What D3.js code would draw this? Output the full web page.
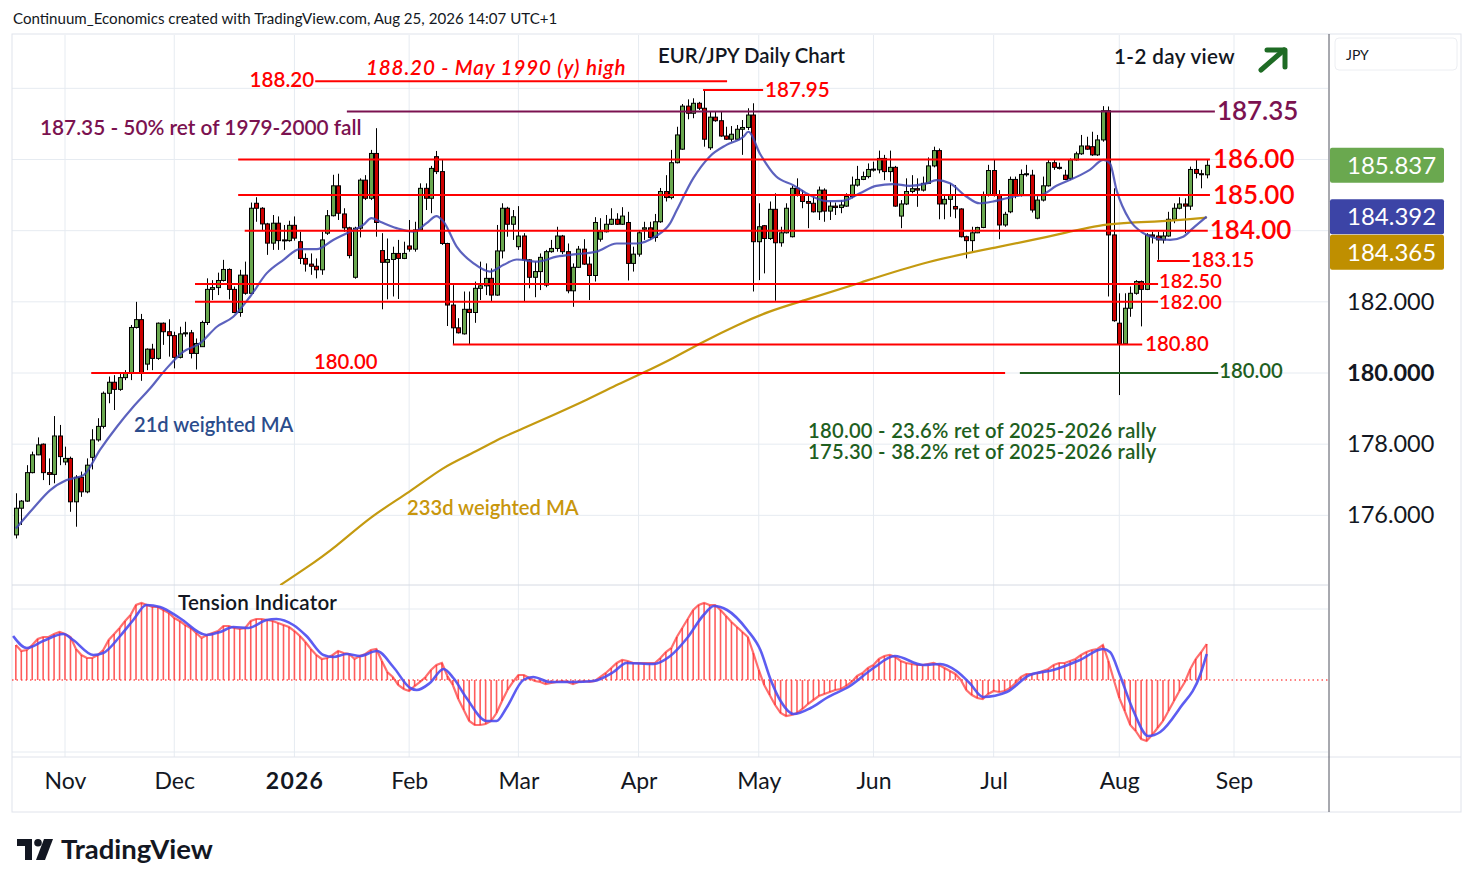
<!DOCTYPE html>
<html>
<head>
<meta charset="utf-8">
<script src="https://cdn.jsdelivr.net/npm/d3@7"></script>
<style>
  body { margin: 0; background: #fff; }
  svg text { font-family: "Lato", "Open Sans", sans-serif; }
</style>
</head>
<body>
<svg id="chart" width="1474" height="887"></svg>
<script>
// daily EUR/JPY candles, 21 Oct 2025 .. 25 Aug 2026
const opens = [
  175.45,176.2,176.4,177.2,177.7,178.0,177.2,177.15,178.23,177.5,
  177.6,176.38,177.07,176.66,177.63,178.12,178.5,179.43,179.74,179.54,
  179.87,180.0,181.28,181.5,180.25,180.67,180.41,181.4,181.16,181.05,
  180.44,181.1,181.13,180.55,180.74,181.42,182.35,182.4,182.6,182.91,
  182.35,181.7,182.75,182.24,184.77,184.63,184.19,183.65,184.21,183.74,
  183.72,184.15,183.69,183.22,183.06,183.0,182.9,183.93,184.42,185.26,
  184.47,184.08,182.69,184.07,185.42,184.91,186.17,183.44,183.11,183.19,
  183.36,183.22,183.57,183.48,184.02,185.19,184.91,186.08,185.66,183.64,
  181.91,181.27,181.1,181.79,181.7,182.38,182.45,182.66,182.19,183.43,
  184.63,184.18,183.55,183.85,183.18,182.69,182.85,182.47,183.41,183.5,
  183.85,183.41,182.31,182.97,183.48,183.06,182.74,183.76,183.97,184.18,
  184.32,184.18,184.23,183.08,183.34,184.04,184.08,183.81,184.25,185.1,
  184.93,185.91,186.29,187.5,187.3,187.58,187.44,186.33,187.19,187.09,
  186.66,186.57,186.57,186.85,186.9,187.25,183.69,184.14,183.78,184.6,
  183.66,183.94,183.83,185.19,185.0,184.82,184.77,184.53,185.14,184.55,
  184.69,184.65,184.69,184.96,185.28,185.44,185.52,185.72,185.71,186.03,
  185.66,185.78,184.41,184.75,185.1,185.18,185.14,185.33,185.82,186.25,
  184.75,184.88,184.68,184.61,183.83,183.72,183.94,184.09,185.0,185.69,
  185.0,184.16,184.53,185.44,185.0,185.58,185.56,184.35,184.86,185.26,
  185.91,185.78,185.56,185.47,185.99,186.16,186.38,186.36,186.13,186.55,
  187.37,183.88,181.4,180.82,181.82,182.24,182.57,182.35,183.88,183.85,
  183.74,183.85,184.32,184.63,184.75,184.69,185.72,185.6,185.57
];
const highs = [
  176.62,176.43,177.41,177.79,178.19,178.02,177.6,178.79,178.54,177.93,
  177.65,177.13,177.23,177.6,178.42,178.73,179.48,179.9,179.94,179.99,
  180.08,181.35,182.0,181.66,180.69,180.82,181.42,181.42,181.51,181.16,
  181.3,181.44,181.21,180.97,181.47,182.66,182.61,182.82,183.18,182.94,
  182.43,182.9,183.13,184.79,184.94,184.66,184.22,184.44,184.4,184.16,
  184.28,184.4,183.97,183.36,183.36,183.22,183.97,184.58,185.57,185.6,
  184.63,184.11,184.11,185.47,185.56,186.27,186.88,183.93,183.78,183.55,
  183.74,183.69,184.3,184.25,185.33,185.33,185.82,186.24,185.99,183.66,
  182.47,181.54,182.29,182.29,182.57,183.13,183.08,182.94,184.16,184.77,
  184.67,184.58,184.69,183.93,183.2,183.13,183.36,183.46,183.74,184.11,
  183.88,183.64,183.08,183.57,183.76,183.27,184.38,184.35,184.44,184.63,
  184.49,184.66,184.53,183.55,184.02,184.25,184.25,184.47,185.2,185.56,
  186.27,186.92,187.56,187.69,187.72,187.62,187.97,187.34,187.34,187.34,
  186.92,186.94,186.97,187.11,187.44,187.58,184.77,184.16,184.82,185.05,
  184.11,184.77,185.26,185.47,185.14,185.0,184.96,185.24,185.19,184.82,
  184.79,184.86,185.05,185.52,185.82,185.66,185.89,185.94,186.25,186.13,
  186.25,185.82,184.86,185.47,185.56,185.47,185.52,186.06,186.36,186.31,
  185.0,185.33,185.28,184.63,183.86,184.11,184.11,185.1,185.85,185.99,
  185.14,184.53,185.52,185.52,185.72,185.85,185.71,184.97,185.52,185.99,
  185.99,185.91,185.71,186.03,186.22,186.69,186.64,186.78,186.69,187.5,
  187.49,185.19,182.24,182.24,182.43,182.61,182.6,183.93,183.97,183.97,
  183.97,184.53,184.77,184.94,184.91,185.8,185.99,185.71,185.99
];
const lows = [
  175.35,175.73,176.38,177.18,177.69,176.99,176.85,176.9,177.41,177.41,
  176.1,175.68,176.52,176.62,177.29,178.07,178.44,179.15,178.96,179.5,
  179.8,179.8,181.25,179.78,180.08,180.08,180.37,180.79,180.46,180.13,
  180.41,181.02,180.41,180.1,180.74,181.35,182.05,182.19,182.57,182.07,
  181.68,181.58,182.2,182.22,184.25,184.02,183.32,183.46,183.46,183.46,
  183.69,183.72,183.06,182.85,182.76,182.66,182.76,183.88,184.4,184.3,
  183.97,183.22,182.65,183.81,184.86,184.86,183.83,181.79,182.07,182.15,
  182.08,183.2,183.41,183.41,184.0,184.58,184.49,185.59,183.6,181.32,
  180.79,181.11,181.08,180.79,181.41,182.05,182.19,182.02,182.17,183.22,
  183.83,183.74,183.46,182.02,182.38,182.13,182.33,182.41,183.38,183.41,
  183.34,182.24,181.86,182.95,183.04,182.05,182.57,183.69,183.95,184.16,
  184.16,184.16,182.6,182.85,183.27,183.74,183.74,183.69,184.22,184.82,
  184.88,185.89,186.27,187.13,187.16,187.39,186.36,186.27,187.06,186.64,
  186.55,186.5,186.55,186.13,186.83,182.29,182.61,182.8,183.74,182.03,
  183.55,183.92,183.81,184.96,184.63,184.07,184.51,184.3,184.25,184.3,
  184.44,184.49,184.67,184.91,185.24,185.42,185.47,185.66,185.61,185.42,
  185.38,184.67,184.07,184.72,185.05,184.67,185.1,185.31,185.78,184.32,
  184.32,184.39,184.35,183.81,183.22,183.41,183.93,184.07,184.96,184.96,
  183.76,184.11,184.49,184.91,184.96,185.52,184.51,184.32,184.82,185.24,
  185.71,185.72,185.42,185.42,185.97,186.13,186.27,186.1,186.1,186.5,
  182.15,181.44,179.38,180.8,181.58,182.2,181.31,182.33,183.64,183.18,
  183.64,183.83,184.21,184.6,183.93,184.58,185.47,185.19,185.47
];
const closes = [
  176.2,176.4,177.2,177.7,177.98,177.2,177.15,178.23,177.65,177.6,
  176.38,177.07,176.66,177.41,178.12,178.5,179.43,179.74,179.54,179.87,
  180.0,181.28,181.5,180.0,180.67,180.41,181.4,181.16,181.05,180.44,
  181.1,181.13,180.55,180.83,181.42,182.35,182.4,182.6,182.91,182.35,
  181.7,182.75,182.24,184.63,184.63,184.19,183.65,184.21,183.72,183.72,
  184.15,183.79,183.22,183.06,183.0,182.9,183.74,184.42,185.26,184.49,
  184.08,183.3,184.07,185.42,184.91,186.17,184.23,183.11,183.19,183.36,
  183.22,183.36,183.48,184.02,185.19,184.91,185.75,185.66,183.64,181.91,
  181.27,181.13,181.79,181.7,182.38,182.45,182.66,182.19,183.43,184.63,
  184.18,184.39,183.85,183.18,182.69,182.85,183.25,183.41,183.5,183.85,
  183.41,182.31,182.97,183.48,183.06,182.74,184.23,183.97,184.18,184.32,
  184.18,184.41,183.08,183.34,183.94,184.08,183.81,184.25,185.1,184.93,
  185.91,186.69,187.5,187.3,187.58,187.44,186.57,187.19,187.09,186.66,
  186.57,186.71,186.85,186.9,187.25,183.69,184.11,183.78,184.6,183.66,
  183.94,184.63,185.19,185.0,184.82,184.77,184.53,185.14,184.55,184.69,
  184.65,184.72,184.96,185.28,185.44,185.52,185.72,185.73,186.03,185.66,
  185.78,184.69,184.75,185.1,185.18,185.14,185.33,185.82,186.25,184.75,
  184.88,185.0,184.61,183.83,183.72,183.94,184.09,185.0,185.69,185.0,
  184.16,184.46,185.44,185.0,185.58,185.6,184.58,184.86,185.26,185.91,
  185.78,185.75,185.44,185.99,186.16,186.38,186.29,186.13,186.55,187.37,
  183.88,181.47,180.82,181.82,182.24,182.57,182.35,183.88,183.84,183.74,
  183.85,184.32,184.63,184.75,184.69,185.72,185.61,185.58,185.837
];

// moving averages, read at [bar, value]
const ma21 = [
  [0,175.63],[3.2,176.2],[6.3,176.71],[9.3,176.99],[12.4,177.13],[15.4,177.84],
  [18.5,178.49],[21.5,179.05],[24.6,179.57],[27.6,180.13],[30.7,180.6],[33.7,180.83],
  [36.8,181.3],[39.8,181.58],[42.9,182.15],[45.9,182.8],[49,183.18],[52,183.48],
  [55.1,183.48],[58.1,183.74],[60.6,183.93],[63.6,184.16],[65.1,184.35],[66.7,184.25],
  [69.7,184.07],[72.8,183.97],[75.2,184.21],[77,184.41],[78.3,184.25],[80.7,183.55],
  [83.8,183.08],[86.8,182.85],[89.3,183.04],[91.7,183.19],[95.4,183.13],[99,183.27],
  [102.7,183.34],[106.3,183.41],[110,183.64],[113.6,183.64],[117.3,183.86],[119.7,184.19],
  [121,184.58],[124,185.47],[127,186.08],[130.1,186.41],[133.2,186.64],[134.1,186.78],
  [136.2,186.17],[139.2,185.52],[142.3,185.28],[145.3,185.0],[148.4,184.83],[151.4,184.84],
  [154.5,185.05],[157.5,185.26],[160.6,185.31],[163.6,185.26],[166.7,185.33],[168.5,185.42],
  [171,185.33],[174,184.96],[176.4,184.77],[178.9,184.82],[181.4,184.91],[184.4,185.0],
  [187.5,185.0],[190.5,185.26],[193.6,185.47],[196.6,185.71],[199.1,185.99],[200.3,185.89],
  [201.5,185.14],[203.9,184.3],[206.4,183.93],[208.8,183.78],[211.3,183.74],[213.7,183.83],
  [215.5,184.07],[218,184.392]
];
const ma233 = [
  [48.4,174.04],[52.6,174.46],[58.7,175.12],[64.8,175.96],[72.2,176.66],[78.3,177.37],
  [83.1,177.7],[89.2,178.21],[92.3,178.4],[98.4,178.82],[104.5,179.24],[110.6,179.71],
  [114.9,180.01],[119.8,180.37],[125.8,180.88],[132,181.35],[138.1,181.75],[143.5,182.0],
  [154.5,182.53],[166.8,183.15],[180.2,183.55],[190.6,183.88],[199.7,184.22],[208.9,184.25],
  [214.9,184.32],[218,184.365]
];

// tension indicator: one value per bar, plus its signal line read at [bar, value]
const tension = [
  0.35,0.29,0.30,0.35,0.41,0.43,0.43,0.46,0.48,0.46,
  0.43,0.31,0.25,0.22,0.22,0.25,0.30,0.40,0.46,0.52,
  0.59,0.65,0.75,0.77,0.75,0.73,0.73,0.70,0.67,0.62,
  0.59,0.55,0.52,0.47,0.42,0.45,0.47,0.49,0.54,0.54,
  0.52,0.51,0.52,0.59,0.61,0.61,0.60,0.59,0.57,0.55,
  0.53,0.49,0.44,0.38,0.31,0.25,0.21,0.22,0.25,0.29,
  0.27,0.26,0.21,0.24,0.26,0.30,0.31,0.19,0.08,0.03,
  -0.05,-0.09,-0.11,-0.06,-0.02,0.03,0.10,0.15,0.17,0.04,
  -0.05,-0.19,-0.30,-0.41,-0.45,-0.45,-0.44,-0.41,-0.33,-0.21,
  -0.10,-0.02,0.05,0.05,0.02,-0.01,-0.02,-0.04,-0.03,-0.02,
  -0.01,-0.02,-0.04,-0.02,-0.01,-0.02,-0.01,0.03,0.07,0.12,
  0.17,0.20,0.19,0.17,0.17,0.17,0.17,0.17,0.22,0.28,
  0.32,0.43,0.52,0.61,0.70,0.75,0.77,0.75,0.75,0.70,
  0.64,0.58,0.53,0.48,0.43,0.27,0.10,-0.05,-0.15,-0.25,
  -0.33,-0.36,-0.35,-0.33,-0.29,-0.24,-0.20,-0.16,-0.14,-0.12,
  -0.10,-0.09,-0.06,-0.02,0.04,0.07,0.12,0.15,0.21,0.24,
  0.25,0.23,0.19,0.17,0.16,0.15,0.15,0.16,0.17,0.15,
  0.12,0.09,0.06,0.00,-0.10,-0.15,-0.18,-0.19,-0.14,-0.11,
  -0.12,-0.11,-0.08,-0.03,0.03,0.06,0.06,0.07,0.09,0.11,
  0.15,0.17,0.17,0.19,0.21,0.25,0.28,0.30,0.31,0.35,
  0.19,0.00,-0.18,-0.31,-0.45,-0.51,-0.59,-0.61,-0.55,-0.48,
  -0.41,-0.31,-0.21,-0.11,-0.02,0.11,0.21,0.28,0.36
];
const tensionSignal = [
  [-0.5,0.44],[2,0.32],[5,0.39],[8.7,0.46],[10.5,0.40],[14.2,0.25],[16,0.27],[19.1,0.44],
  [21.5,0.60],[23.9,0.75],[26.4,0.73],[30,0.62],[34.9,0.45],[37.4,0.48],[39.8,0.53],
  [42.6,0.52],[45.9,0.60],[47.7,0.61],[50.8,0.55],[53.2,0.44],[56.3,0.25],[58.1,0.23],
  [60.6,0.26],[63,0.24],[66.1,0.29],[69.1,0.13],[72.2,-0.08],[73.4,-0.10],[75.8,-0.03],
  [78.3,0.11],[80.1,0.02],[82.5,-0.18],[86.2,-0.41],[88,-0.41],[89.8,-0.28],[92.9,0.0],
  [94.7,0.03],[97.8,-0.02],[102.1,-0.02],[105.7,-0.01],[109.4,0.08],[111.8,0.17],
  [116.7,0.16],[119.8,0.24],[122.9,0.42],[125.9,0.65],[127.8,0.74],[130.2,0.70],
  [133.9,0.50],[136.3,0.30],[138.2,0.0],[140,-0.21],[142.4,-0.34],[145.5,-0.28],
  [148.4,-0.18],[152.7,-0.06],[157,0.12],[160.9,0.24],[166.1,0.15],[169.2,0.16],
  [172.2,0.09],[174.6,-0.03],[177.1,-0.17],[181.4,-0.12],[185.6,0.05],[189.9,0.10],
  [194.8,0.20],[199,0.31],[200.3,0.28],[202.1,0.05],[204.6,-0.31],[207.3,-0.56],
  [209.5,-0.52],[213.1,-0.28],[216.8,0.05],[218,0.26]
];

const monthLabels = ['Nov', 'Dec', '2026', 'Feb', 'Mar', 'Apr', 'May', 'Jun', 'Jul', 'Aug', 'Sep'];
const priceGrid = [176, 178, 180, 182, 184, 186, 188];
const priceTicks = [176, 178, 180, 182];

// trading calendar: weekdays, less Christmas and New Year
const holidays = ['2025-12-25', '2026-01-01'];
const days = [];
for (let d = new Date(Date.UTC(2025, 9, 21)); days.length < 241; d.setUTCDate(d.getUTCDate() + 1)) {
  const wd = d.getUTCDay();
  if (wd === 0 || wd === 6 || holidays.includes(d.toISOString().slice(0, 10))) continue;
  days.push(new Date(d));
}
const monthStarts = days.map((d, i) => i)
  .filter(i => i > 0 && days[i].getUTCMonth() !== days[i - 1].getUTCMonth())
  .slice(0, monthLabels.length);

const bars = opens.map((o, i) => ({ i, o, h: highs[i], l: lows[i], c: closes[i] }));

const left = 12, right = 1328, mainTop = 35, mainBottom = 585, indTop = 586, indBottom = 757;

const x = d3.scaleLinear().domain([0, 223]).range([15.84, 1234]);
const y = d3.scaleLinear().domain([180, 186]).range([373, 159.5]);
const yT = d3.scaleLinear().domain([0, 1]).range([680, 580]);

const svg = d3.select('#chart');
const defs = svg.append('defs');
defs.append('clipPath').attr('id', 'clipMain')
  .append('rect').attr('x', left).attr('y', mainTop).attr('width', right - left).attr('height', mainBottom - mainTop);
defs.append('clipPath').attr('id', 'clipInd')
  .append('rect').attr('x', left).attr('y', indTop).attr('width', right - left).attr('height', indBottom - indTop);

svg.append('text').attr('x', 13).attr('y', 24)
  .attr('font-size', 15.1).attr('fill', '#131722')
  .text('Continuum_Economics created with TradingView.com, Aug 25, 2026 14:07 UTC+1');

// grid
const grid = svg.append('g').attr('stroke', '#e6ebf1').attr('stroke-width', 1);
grid.selectAll('line.h').data(priceGrid).join('line')
  .attr('x1', left).attr('x2', right).attr('y1', d => y(d)).attr('y2', d => y(d));
grid.selectAll('line.hi').data([0.71, -0.72]).join('line')
  .attr('x1', left).attr('x2', right).attr('y1', d => yT(d)).attr('y2', d => yT(d));
grid.selectAll('line.v').data(monthStarts).join('line')
  .attr('x1', d => x(d)).attr('x2', d => x(d)).attr('y1', mainTop).attr('y2', indBottom);

// frame
const frame = svg.append('g').attr('fill', 'none');
frame.append('rect').attr('x', left).attr('y', 34).attr('width', 1461 - left).attr('height', 812 - 34)
  .attr('stroke', '#e0e3eb');
frame.append('line').attr('x1', left).attr('x2', right).attr('y1', mainBottom).attr('y2', mainBottom)
  .attr('stroke', '#d6dae3');
frame.append('line').attr('x1', left).attr('x2', 1461).attr('y1', indBottom).attr('y2', indBottom)
  .attr('stroke', '#e0e3eb');
frame.append('line').attr('x1', 1329).attr('x2', 1329).attr('y1', 34).attr('y2', 812)
  .attr('stroke', '#50535e');

// candles
const main = svg.append('g').attr('clip-path', 'url(#clipMain)');
const candle = main.append('g').selectAll('g').data(bars).join('g');
candle.append('line')
  .attr('x1', d => Math.round(x(d.i)) + 0.5).attr('x2', d => Math.round(x(d.i)) + 0.5)
  .attr('y1', d => y(d.h)).attr('y2', d => y(d.l))
  .attr('stroke', '#000').attr('stroke-width', 1);
candle.append('rect')
  .attr('x', d => Math.round(x(d.i)) - 1.5).attr('width', 4)
  .attr('y', d => y(Math.max(d.o, d.c)))
  .attr('height', d => Math.max(1, Math.abs(y(d.o) - y(d.c))))
  .attr('fill', d => d.c >= d.o ? '#6aa84f' : '#cc0000')
  .attr('stroke', '#000').attr('stroke-width', 1);

// moving averages
const maLine = d3.line().x(d => x(d[0])).y(d => y(d[1])).curve(d3.curveMonotoneX);
main.append('path').datum(ma233).attr('d', maLine.curve(d3.curveBasis)(ma233))
  .attr('fill', 'none').attr('stroke', '#c49a10').attr('stroke-width', 2.2);
maLine.curve(d3.curveMonotoneX);
main.append('path').datum(ma21).attr('d', maLine)
  .attr('fill', 'none').attr('stroke', '#3f46b3').attr('stroke-opacity', 0.85).attr('stroke-width', 2.2);

// levels
const levels = main.append('g').attr('stroke-width', 2);
function level(price, i0, i1, color) {
  levels.append('line')
    .attr('x1', x(i0)).attr('x2', x(i1)).attr('y1', y(price)).attr('y2', y(price))
    .attr('stroke', color);
}
level(188.20, 54.8, 130.2, '#ff0000');
level(187.95, 125.8, 136.8, '#ff0000');
level(187.35, 60.6, 219.5, '#7b1250');
level(186.00, 40.7, 218.6, '#ff0000');
level(185.00, 40.7, 218.6, '#ff0000');
level(184.00, 41.9, 218.2, '#ff0000');
level(183.15, 208.9, 214.9, '#ff0000');
level(182.50, 32.8, 209.1, '#ff0000');
level(182.00, 32.8, 209.1, '#ff0000');
level(180.80, 80.0, 206.2, '#ff0000');
level(180.00, 13.8, 181.1, '#ff0000');
level(180.00, 183.8, 220.1, '#1f5f1f');

// annotations
const notes = svg.append('g');
function note(txt, px, py, size, color, opts = {}) {
  const t = notes.append('text').attr('x', px).attr('y', py)
    .attr('font-size', size).attr('fill', color).text(txt);
  if (opts.anchor) t.attr('text-anchor', opts.anchor);
  if (opts.weight) t.attr('font-weight', opts.weight);
  if (opts.italic) t.attr('font-style', 'italic');
  if (opts.spacing) t.attr('letter-spacing', opts.spacing);
  return t;
}
note('EUR/JPY Daily Chart', 658, 63, 20.4, '#131722', { weight: 600 });
note('1-2 day view', 1114, 64, 20.6, '#131722', { weight: 600, spacing: 0.4 });
note('188.20 - May 1990 (y) high', 366, 75, 20.6, '#ff0000', { italic: true, weight: 600, spacing: 0.85 });
note('188.20', x(54.8) - 1, 87, 20.6, '#ff0000', { anchor: 'end', weight: 600 });
note('187.95', x(136.8) + 2, 97, 20.6, '#ff0000', { weight: 600 });
note('187.35 - 50% ret of 1979-2000 fall', 40, 135, 20.8, '#7b1250', { weight: 600 });
note('187.35', x(219.5) + 2, 120, 26, '#7b1250', { weight: 600 });
note('186.00', x(218.6) + 3, 168, 26, '#ff0000', { weight: 600 });
note('185.00', x(218.6) + 3, 204, 26, '#ff0000', { weight: 600 });
note('184.00', x(218.2) + 2, 239, 26, '#ff0000', { weight: 600 });
note('183.15', x(214.9) + 1, 267, 20.3, '#ff0000', { weight: 600 });
note('182.50', x(209.1) + 1, 288, 20, '#ff0000', { weight: 600 });
note('182.00', x(209.1) + 1, 309, 20, '#ff0000', { weight: 600 });
note('180.80', x(206.2) + 3, 351, 20.3, '#ff0000', { weight: 600 });
note('180.00', 314, 369, 20.3, '#ff0000', { weight: 600 });
note('180.00', x(220.1) + 1, 378, 20.3, '#1f5f1f', { weight: 600 });
note('21d weighted MA', 134, 432, 20.1, '#2b4c8c', { weight: 600 });
note('180.00 - 23.6% ret of 2025-2026 rally', 808, 438, 20.2, '#1f5f1f', { weight: 600, spacing: 0.25 });
note('175.30 - 38.2% ret of 2025-2026 rally', 808, 459, 20.2, '#1f5f1f', { weight: 600, spacing: 0.25 });
note('233d weighted MA', 407, 515, 20.2, '#c8960c', { weight: 600 });
note('Tension Indicator', 178, 610, 20.6, '#131722', { weight: 600, spacing: 0.2 });

// view arrow
const arrow = svg.append('g').attr('stroke', '#1e6b24').attr('stroke-width', 5)
  .attr('fill', 'none').attr('stroke-linecap', 'round').attr('stroke-linejoin', 'round');
arrow.append('line').attr('x1', 1261).attr('y1', 70).attr('x2', 1284).attr('y2', 50);
arrow.append('polyline').attr('points', '1267,50 1285,50 1285,67');

// tension indicator
const ind = svg.append('g').attr('clip-path', 'url(#clipInd)');
ind.append('line').attr('x1', left).attr('x2', right).attr('y1', yT(0)).attr('y2', yT(0))
  .attr('stroke', '#ff0000').attr('stroke-width', 1).attr('stroke-dasharray', '1.5,3');
ind.append('g').selectAll('line').data(tension).join('line')
  .attr('x1', (d, i) => x(i)).attr('x2', (d, i) => x(i))
  .attr('y1', yT(0)).attr('y2', d => yT(d))
  .attr('stroke', '#ff4040').attr('stroke-opacity', 0.85).attr('stroke-width', 1.6);
ind.append('path').datum(tension)
  .attr('d', d3.line().x((d, i) => x(i)).y(d => yT(d)))
  .attr('fill', 'none').attr('stroke', '#ff3030').attr('stroke-opacity', 0.7).attr('stroke-width', 2.2);
ind.append('path').datum(tensionSignal)
  .attr('d', d3.line().x(d => x(d[0])).y(d => yT(d[1])).curve(d3.curveMonotoneX))
  .attr('fill', 'none').attr('stroke', '#4b4bf0').attr('stroke-opacity', 0.9).attr('stroke-width', 2.6);

// time axis
const xAxis = d3.axisBottom(x).tickValues(monthStarts)
  .tickFormat((d, i) => monthLabels[i]).tickSize(0);
const gx = svg.append('g').attr('transform', 'translate(0,781)').call(xAxis);
gx.select('.domain').remove();
gx.selectAll('text').attr('y', 0).attr('dy', '0.35em')
  .attr('font-size', 23).attr('fill', '#131722')
  .attr('font-family', '"Lato", "Open Sans", sans-serif')
  .attr('font-weight', (d, i) => monthLabels[i] === '2026' ? 700 : 400)
  .attr('letter-spacing', (d, i) => monthLabels[i] === '2026' ? 1.2 : 0);

// price axis
const yAxis = d3.axisRight(y).tickValues(priceTicks).tickFormat(d3.format('.3f')).tickSize(0).tickPadding(18);
const gy = svg.append('g').attr('transform', 'translate(1329,0)').call(yAxis);
gy.select('.domain').remove();
gy.selectAll('text').attr('font-size', 23.5).attr('fill', '#131722')
  .attr('font-family', '"Lato", "Open Sans", sans-serif')
  .attr('font-weight', d => d === 180 ? 700 : 400);

// currency box and last-value tags
svg.append('rect').attr('x', 1335).attr('y', 38).attr('width', 122).attr('height', 32).attr('rx', 4)
  .attr('fill', '#fff').attr('stroke', '#eceef2');
svg.append('text').attr('x', 1346).attr('y', 60).attr('font-size', 14).attr('fill', '#131722').text('JPY');

const lastClose = closes[closes.length - 1];
const lastMa21 = ma21[ma21.length - 1][1];
const lastMa233 = ma233[ma233.length - 1][1];
const tags = [
  { v: lastClose, cy: y(lastClose), color: '#6aa84f' },
  { v: lastMa21, cy: y(lastMa21), color: '#3c44a6' },
  { v: lastMa233, cy: y(lastMa21) + 35.5, color: '#bf8f00' }
];
const tag = svg.append('g').selectAll('g').data(tags).join('g');
tag.append('rect').attr('x', 1330).attr('width', 114).attr('y', d => d.cy - 17.5).attr('height', 35)
  .attr('rx', 2).attr('fill', d => d.color);
tag.append('text').attr('x', 1347).attr('y', d => d.cy).attr('dy', '0.36em')
  .attr('font-size', 24).attr('fill', '#fff').text(d => d3.format('.3f')(d.v));

// TradingView mark
const logo = svg.append('g').attr('transform', 'translate(17,839)').attr('fill', '#131722');
logo.append('path').attr('d', 'M0 0H15V21H8V7H0Z');
logo.append('circle').attr('cx', 21).attr('cy', 3.8).attr('r', 3.8);
logo.append('path').attr('d', 'M27 0H36L28 21H19Z');
svg.append('text').attr('x', 61).attr('y', 859).attr('font-size', 27.5).attr('font-weight', 700)
  .attr('fill', '#131722').text('TradingView');
</script>
</body>
</html>
